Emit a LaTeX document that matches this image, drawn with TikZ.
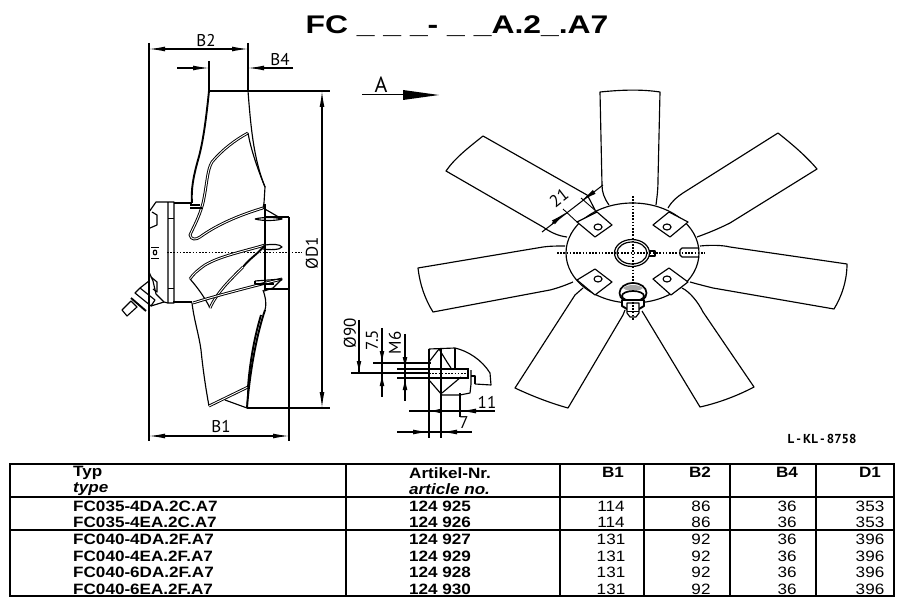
\documentclass[tikz,border=0pt]{standalone}
\usepackage{fontspec}
\usetikzlibrary{arrows.meta}
\setmainfont{Liberation Sans}
\newfontfamily\widefont[FakeStretch=1.14]{Liberation Sans}
\newfontfamily\titlefont[FakeStretch=1.25]{Liberation Sans}
\newfontfamily\dimfont{PT Sans}
\tikzset{
  part/.style={line width=1.15pt,line join=round},
  heavy/.style={line width=1.9pt,line join=round},
  twin/.style={line width=.95pt,double,double distance=.9pt,line join=round},
  thinl/.style={line width=.9pt},
  dimline/.style={line width=1.05pt},
  tipend/.style={dimline,-{Latex[length=16pt,width=4.8pt]}},
  tipshort/.style={dimline,-{Latex[length=12pt,width=4.8pt]}},
  center/.style={line width=1.2pt,dash pattern=on 1.6pt off 1.6pt},
  dimtext/.style={font=\dimfont\fontsize{17}{17}\selectfont,inner sep=0pt},
  headtext/.style={font=\widefont\bfseries\fontsize{15}{15}\selectfont,inner sep=0pt,anchor=west},
  headit/.style={font=\widefont\bfseries\itshape\fontsize{15}{15}\selectfont,inner sep=0pt,anchor=west},
  celltext/.style={font=\widefont\fontsize{15}{15}\selectfont,inner sep=0pt},
  headnum/.style={font=\widefont\bfseries\fontsize{15}{15}\selectfont,inner sep=0pt},
  pad/.style={line width=1.15pt,line join=round},
  rule/.style={line width=1.6pt}
}
\begin{document}
\begin{tikzpicture}[x=1pt,y=-1pt]
\useasboundingbox (0,0) rectangle (907,601);
\fill[white] (0,0) rectangle (907,601);
% title
\node[font=\titlefont\bfseries\fontsize{25.5}{26}\selectfont,inner sep=0pt] (title) at (457,26) {FC \_ \_ \_- \_ \_A.2\_.A7};

%% ---- side view: dimensions
\draw[dimline] (149,43) -- (149,441);
\draw[dimline] (248,43) -- (248,91);
\draw[dimline] (209,61) -- (209,91);
\draw[dimline] (289,217) -- (289,441);
\draw[dimline] (209,91) -- (330,91);
\draw[dimline] (247,408) -- (330,408);
\draw[tipend] (180,49) -- (149,49);
\draw[tipend] (217,49) -- (248,49);
\draw[dimline] (180,49) -- (217,49);
\draw[tipend] (177,68) -- (209,68);
\draw[tipend] (293,68) -- (248,68);
\draw[tipend] (322,130) -- (322,91);
\draw[tipend] (322,370) -- (322,408);
\draw[dimline] (322,130) -- (322,370);
\draw[tipend] (190,436) -- (149,436);
\draw[tipend] (250,436) -- (289,436);
\draw[dimline] (190,436) -- (250,436);
\node[dimtext] (tb2) at (206,40.5) {B2};
\node[dimtext] (tb4) at (280,59.5) {B4};
\node[dimtext] (tb1) at (221,427) {B1};
\node[dimtext,rotate=90] (td1) at (312,253) {ØD1};
\draw[center] (167,252.5) -- (302,252.5);

%% ---- motor
\draw[part] (149,212) -- (156,202) -- (174,202) -- (174,303) -- (168,303) -- (168,202);
\draw[part] (174,203) -- (192,203);
\draw[part] (173,302) -- (192,302);
\draw[thinl] (168,218) -- (174,218) (168,288) -- (174,288);
\draw[part] (152,212) -- (157,215) -- (157,225) -- (150,228);
\draw[part] (151,277) -- (157,282) -- (157,292) -- (153,289);
\draw[part] (149,272) -- (153,281) -- (156,294) -- (164,302) -- (168,303);
\draw[part] (155,252.5) circle[x radius=1.7,y radius=2.5];
\draw[thinl] (151,247) -- (159,247) (151,258) -- (159,258);
% cable gland
\draw[part] (122,310) -- (127,316) -- (137,307) -- (131,301) -- cycle;
\draw[heavy] (131,298) -- (146,311);
\draw[part] (135,293) -- (151,306) -- (155,300) -- (140,288) -- cycle;
\draw[part] (140,288) -- (149,281) (151,306) -- (164,302);

%% ---- blades, side view
\draw[part] (265,204) -- (265,290);
\draw[part] (265,217) -- (289,217);
\draw[part] (265,289) -- (289,289);
% top blade
\draw[heavy] (209,91) .. controls (206,120) and (203,143) .. (198,160) .. controls (193,178) and (191,190) .. (192,203);
\draw[part] (209,91) -- (248,91);
\draw[part] (248,91) .. controls (251,130) and (254,160) .. (265,187) -- (264,203) -- (263,208);
\draw[twin] (248,133) .. controls (235,140) and (222,150) .. (212,162) .. controls (207,170) and (207,185) .. (203,203) .. controls (199,218) and (193,228) .. (190,235) .. controls (191,240) and (196,240) .. (200,237) .. controls (218,224) and (240,215) .. (263,208);
\draw[part] (248,133) .. controls (251,150) and (258,170) .. (265,187);
\draw[part] (190,205) -- (200,205) (190,208) -- (202,208);
\draw[part] (263,208) -- (270,212) -- (282,219);
\draw[part] (255,219) .. controls (262,217) and (275,217) .. (282,219) .. controls (275,221) and (262,221) .. (255,219);
% middle blade
\draw[twin] (265,245) .. controls (245,251) and (220,256) .. (205,265) .. controls (198,270) and (193,274) .. (190,279);
\draw[part] (190,279) .. controls (198,288) and (205,298) .. (210,308);
\draw[heavy] (265,245) .. controls (258,254) and (250,258) .. (243,267);
\draw[twin] (243,267) .. controls (232,278) and (217,292) .. (210,308);
\draw[part] (265,245) .. controls (272,244) and (280,244) .. (282,247) .. controls (280,250) and (270,250) .. (263,249);
% lower lobe & blade
\draw[twin] (193,303) .. controls (215,296) and (250,287) .. (282,279);
\draw[part] (255,281) -- (282,279) -- (273,288) -- (264,291);
\draw[part] (255,281) -- (255,284) -- (274,284);
\draw[part] (192,303) .. controls (194,320) and (199,335) .. (201,350) .. controls (203,370) and (206,390) .. (209,406);
\draw[twin] (209,406) -- (248,387);
\draw[part] (225,400) -- (247,408);
\draw[heavy] (247,408) .. controls (249,380) and (255,340) .. (265,310);
\draw[heavy] (248,387) .. controls (250,360) and (255,335) .. (261,315);
\draw[part] (265,310) .. controls (267,302) and (265,296) .. (263,290);
\draw[part] (247,408) -- (248,387);

%% ---- section detail
\draw[dimline] (359,320) -- (359,373);
\draw[dimline] (351,373) -- (430,373);
\draw[tipshort] (359,355) -- (359,373);
\draw[dimline] (382,328) -- (382,397);
\draw[tipshort] (382,350) -- (382,363);
\draw[tipshort] (382,387) -- (382,374);
\draw[dimline] (373,363) -- (431,363);
\draw[dimline] (405,334) -- (405,401);
\draw[tipshort] (405,356) -- (405,369);
\draw[tipshort] (405,391) -- (405,378);
\draw[dimline] (397,369) -- (468,369) -- (468,378) -- (397,378);
\draw[center] (429,373.5) -- (467,373.5);
\node[dimtext,rotate=90] (t90) at (350,333) {Ø90};
\node[dimtext,rotate=90] (t75) at (372,340) {7.5};
\node[dimtext,rotate=90] (tm6) at (395,343) {M6};
% hub section
\draw[part] (429,349) -- (455,348) .. controls (468,351) and (482,360) .. (490,373) -- (491,385) -- (475,384);
\draw[part] (471,370) -- (471,384) -- (470,393) -- (460,395) -- (442,395) -- (429,380);
\draw[part] (475,384) -- (475,376) -- (471,376);
\draw[part] (442,393) -- (461,377);
\draw[part] (429,362) -- (439,349) -- (447,362) -- (451,368);
\draw[part] (455,348) -- (455,368);
\draw[dimline] (429,349) -- (429,438);
\draw[dimline] (441,349) -- (441,438);
\draw[dimline] (460,393) -- (460,417);
\draw[dimline] (409,411) -- (495,411);
\draw[tipshort] (442,411) -- (429,411);
\draw[tipend] (477,411) -- (460,411);
\draw[dimline] (397,432) -- (472,432);
\draw[tipend] (412,432) -- (429,432);
\draw[tipend] (458,432) -- (441,432);
\node[dimtext] (t11) at (487,402) {11};
\node[dimtext] (t7) at (464,423) {7};

%% ---- arrow A
\node[dimtext,font=\dimfont\fontsize{22}{22}\selectfont] (ta) at (381,85) {A};
\draw[line width=1.1pt] (362,94.5) -- (405,94.5);
\fill[black] (403,90) -- (439,95) -- (403,100) -- cycle;

%% ---- front view
\draw[part] (632.5,253) ellipse[x radius=66.5,y radius=50];
\draw[center] (557,253) -- (705,253);
\draw[center] (633,196) -- (633,316);
% ring
\draw[line width=1.2pt] (632,253) ellipse[x radius=17.5,y radius=13.5];
\draw[line width=1.2pt] (632,253) ellipse[x radius=15,y radius=11];
\draw[part] (649,251) -- (655,251) -- (655,256) -- (649,256);
\draw[part] (699,248) -- (682,248) -- (680,250) -- (680,255) -- (682,257) -- (699,257);
% pads
\draw[pad,fill=white] (577,222) -- (597,212) -- (612,225) -- (595,237) -- cycle;
\draw[pad,fill=white] (653,225) -- (669,212) -- (688,222) -- (670,237) -- cycle;
\draw[pad,fill=white] (577,280) -- (595,269) -- (612,282) -- (595,295) -- cycle;
\draw[pad,fill=white] (653,279) -- (669,268) -- (688,282) -- (671,295) -- cycle;
\draw[part] (598,227) ellipse[x radius=4,y radius=3];
\draw[part] (667,227) ellipse[x radius=4,y radius=3];
\draw[part] (598,279) ellipse[x radius=4,y radius=3];
\draw[part] (667,279) ellipse[x radius=4,y radius=3];
% bolt
\draw[line width=1.7pt,fill=white] (633,293) ellipse[x radius=13.5,y radius=10];
\fill[gray!70] (623,288) .. controls (628,284) and (638,284) .. (643,288) -- (640,290) -- (626,290) -- cycle;
\draw[line width=1.7pt] (633,296) ellipse[x radius=11,y radius=5];
\draw[heavy,fill=white] (622,300) -- (644,300) -- (644,306) -- (639,309) -- (627,309) -- (622,306) -- cycle;
\draw[part,fill=white] (627,303) -- (639,303) -- (639,313) -- (636,317) -- (630,317) -- (627,313) -- cycle;
\draw[thinl] (627,311) -- (639,311);
\draw[center] (633,302) -- (633,320);

% blades: top
\draw[part] (609,205) .. controls (604,198) and (602,192) .. (602,185) -- (600,92) .. controls (620,90) and (640,89) .. (660,92) -- (658,180) .. controls (658,190) and (657,197) .. (656,205);
% upper left
\draw[part] (595,210) .. controls (592,204) and (589,198) .. (587,195) -- (483,136) .. controls (468,148) and (455,158) .. (446,171) -- (543,227) .. controls (550,232) and (558,236) .. (567,237);
% upper right
\draw[part] (668,208) .. controls (672,201) and (677,197) .. (683,193) -- (778,133) .. controls (793,145) and (806,156) .. (817,169) -- (730,223) .. controls (718,229) and (708,233) .. (697,237);
% left
\draw[part] (565,246) .. controls (557,246) and (550,246) .. (543,247) -- (418,268) .. controls (420,285) and (425,299) .. (433,312) -- (550,290) .. controls (558,288) and (566,285) .. (573,282);
% right
\draw[part] (700,246) .. controls (710,245) and (722,245) .. (730,247) -- (847,264) .. controls (847,280) and (842,296) .. (834,309) -- (713,288) .. controls (705,286) and (697,284) .. (690,282);
% lower left
\draw[part] (583,288) -- (575,295) -- (515,388) .. controls (532,396) and (550,403) .. (568,408) -- (623,315) -- (625,310);
% lower right
\draw[part] (682,288) .. controls (690,292) and (698,302) .. (703,312) -- (754,387) .. controls (737,396) and (718,403) .. (700,407) -- (642,311);
% dimension 21
\draw[dimline] (542,232) -- (603,185);
\draw[thinl] (581,198) -- (597,212);
\draw[thinl] (563,209) -- (577,222);
\draw[tipend] (552,223.5) -- (566,212.5);
\draw[tipend] (594,192) -- (581,201);
\node[dimtext,rotate=38] (t21) at (559,198) {21};

\node[font=\dimfont\bfseries\fontsize{13}{13}\selectfont,inner sep=0pt] (code) at (822,439) {L\,-\,KL\,-\,8758};

%% ---- table
\draw[rule] (10,464) rectangle (894,596);
\draw[rule] (10,497) -- (894,497);
\draw[rule] (10,530) -- (894,530);
\foreach \cx in {346,560,644,730,816} \draw[line width=1.3pt] (\cx,464) -- (\cx,596);
\node[headtext] (h1) at (73,473) {Typ};
\node[headit] (h2) at (73,489) {type};
\node[headtext] (h3) at (409,473) {Artikel-Nr.};
\node[headit] (h4) at (409,489) {article no.};
\node[headnum] (h5) at (613,472) {B1};
\node[headnum] (h6) at (700,472) {B2};
\node[headnum] (h7) at (787,472) {B4};
\node[headnum] (h8) at (870,472) {D1};
\foreach \ry/\tp/\no/\ba/\bb/\bc/\dd [count=\ri] in {
  506/FC035-4DA.2C.A7/124 925/114/86/36/353,
  522/FC035-4EA.2C.A7/124 926/114/86/36/353,
  539/FC040-4DA.2F.A7/124 927/131/92/36/396,
  556/FC040-4EA.2F.A7/124 929/131/92/36/396,
  572/FC040-6DA.2F.A7/124 928/131/92/36/396,
  589/FC040-6EA.2F.A7/124 930/131/92/36/396}{
  \node[headtext] (ty\ri) at (73,\ry) {\tp};
  \node[headtext] (no\ri) at (409,\ry) {\no};
  \node[celltext] (ba\ri) at (611,\ry) {\ba};
  \node[celltext] (bb\ri) at (701,\ry) {\bb};
  \node[celltext] (bc\ri) at (787,\ry) {\bc};
  \node[celltext] (dd\ri) at (870,\ry) {\dd};
}
\end{tikzpicture}
\end{document}
